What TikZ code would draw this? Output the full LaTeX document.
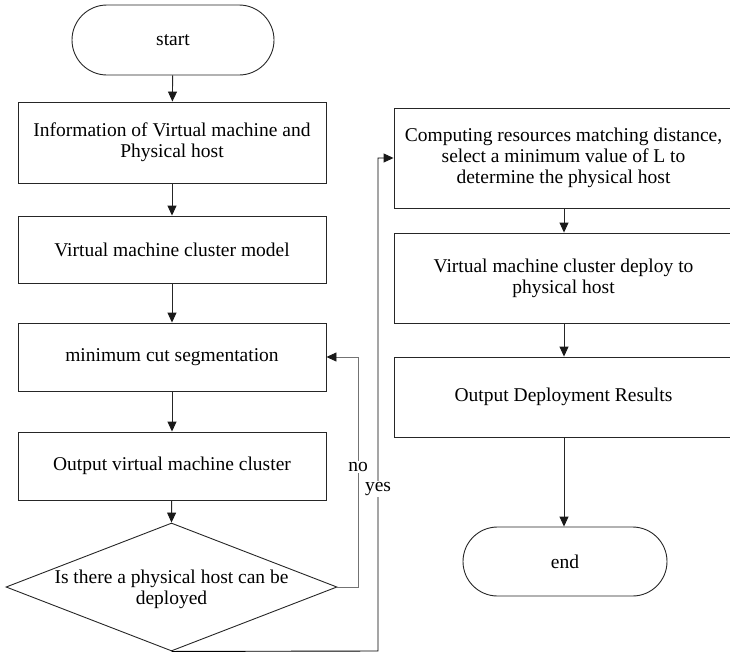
\documentclass[tikz,border=0pt]{standalone}
\usepackage{fontspec}
\setmainfont{Liberation Serif}
\usetikzlibrary{shapes.misc,shapes.geometric,arrows.meta}
\tikzset{
  base/.style={draw=black!85, line width=0.9pt, inner sep=0pt, align=center,
    font=\fontsize{19.5}{21}\selectfont},
  procbox/.style={base, rectangle},
  term/.style={base, rounded rectangle},
  decision/.style={base, diamond, aspect=2.59},
  arr/.style={draw=black!85, line width=0.9pt, -{Triangle[length=10pt,width=9pt,color=black!90]}},
  link/.style={draw=black!85, line width=0.9pt},
  lbl/.style={fill=white, inner sep=1pt, font=\fontsize{19.5}{21}\selectfont}
}
\begin{document}
\begin{tikzpicture}[x=1pt,y=-1pt]
\useasboundingbox (0,0) rectangle (730,653);
\clip (0,0) rectangle (730,653);
% left column
\node[term, minimum width=202pt, minimum height=70pt] (start) at (173,40) {start};
\node[procbox, minimum width=308pt, minimum height=81pt] (info) at (172,142.5)
  {Information of Virtual machine and\\Physical host};
\node[procbox, minimum width=308pt, minimum height=67pt] (model) at (172,249.5)
  {Virtual machine cluster model};
\node[procbox, minimum width=308pt, minimum height=68pt] (cut) at (172,357)
  {minimum cut segmentation};
\node[procbox, minimum width=308pt, minimum height=68pt] (outc) at (172,466)
  {Output virtual machine cluster};
\node[decision, minimum width=331pt, minimum height=128pt] (dec) at (171.5,587) {};
\node[font=\fontsize{19.5}{21}\selectfont, align=center] (dectext) at (171.5,589)
  {Is there a physical host can be\\deployed};
% right column
\node[procbox, minimum width=339pt, minimum height=100pt] (comp) at (563.5,158)
  {Computing resources matching distance,\\select a minimum value of L to\\determine the physical host};
\node[procbox, minimum width=339pt, minimum height=90pt] (deploy) at (563.5,278)
  {Virtual machine cluster deploy to\\physical host};
\node[procbox, minimum width=339pt, minimum height=80pt] (res) at (563.5,397)
  {Output Deployment Results};
\node[term, minimum width=204pt, minimum height=69pt] (end) at (565,561.5) {end};
% helper coordinates
\coordinate (nob) at (358,587);
\coordinate (not) at (358,357);
\coordinate (yesb) at (378,651);
\coordinate (yest) at (378,158);
% connectors
\draw[arr] (start) -- (info);
\draw[arr] (info) -- (model);
\draw[arr] (model) -- (cut);
\draw[arr] (cut) -- (outc);
\draw[arr] (outc) -- (dec.north);
\draw[arr, draw=black!55] (dec.east) -- (nob) -- (not) -- (cut.east);
\draw[arr, draw=black] (dec.south) -- (yesb) -- (yest) -- (comp.west);
\draw[arr] (comp.south -| 564,0) -- (deploy.north -| 564,0);
\draw[arr] (deploy.south -| 564,0) -- (res.north -| 564,0);
\draw[arr] (res.south -| 564,0) -- (end.north -| 564,0);
% labels
\node[lbl] (nolbl) at (358,467) {no};
\node[lbl] (yeslbl) at (378,489) {yes};
\end{tikzpicture}
\end{document}
